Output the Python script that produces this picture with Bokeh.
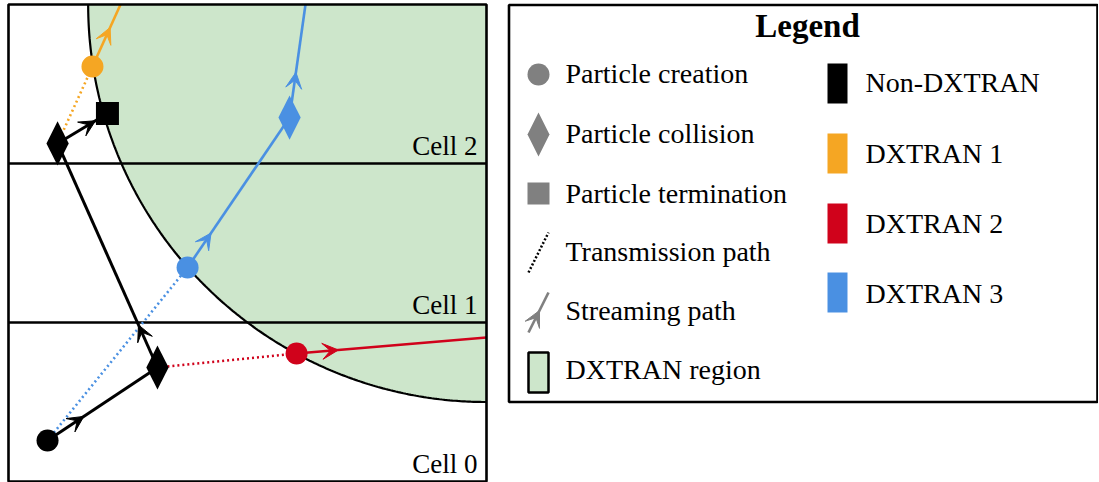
import numpy as np
from bokeh.plotting import figure
from bokeh.models import Range1d, Arrow, VeeHead
from bokeh.layouts import row
from bokeh.core.properties import value
from bokeh.embed import file_html
from bokeh.resources import INLINE

# ---------------- data ----------------
# cells (horizontal slabs of unit height)
cell_boundaries = [1.0, 2.0]
cell_labels = ["Cell 0", "Cell 1", "Cell 2"]

# DXTRAN sphere (centre and radius, in cell units)
dxtran_center_x = 3.0
dxtran_center_y = 3.0
dxtran_radius = 2.5

# particle events
event_id = ["src", "col1", "col2", "term", "dx1", "dx3", "col3", "dx2"]
event_x = [0.245, 0.935, 0.308, 0.621, 0.527, 1.124, 1.764, 1.808]
event_y = [0.258, 0.717, 2.126, 2.314, 2.610, 1.346, 2.289, 0.805]
event_kind = ["creation", "collision", "collision", "termination",
              "creation", "creation", "collision", "creation"]
event_group = ["Non-DXTRAN", "Non-DXTRAN", "Non-DXTRAN", "Non-DXTRAN",
               "DXTRAN 1", "DXTRAN 3", "DXTRAN 3", "DXTRAN 2"]

# points where particles leave the geometry
exit_id = ["out1", "out3", "out2"]
exit_x = [0.703, 1.864, 3.0]
exit_y = [3.0, 3.0, 0.906]

# paths between events
path_from = ["src", "col1", "col2", "dx1", "dx3", "col3", "dx2", "src", "col1", "col2"]
path_to = ["col1", "col2", "term", "out1", "col3", "out3", "out2", "dx3", "dx2", "dx1"]
path_kind = ["stream"] * 7 + ["transmit"] * 3
path_group = ["Non-DXTRAN", "Non-DXTRAN", "Non-DXTRAN", "DXTRAN 1", "DXTRAN 3",
              "DXTRAN 3", "DXTRAN 2", "DXTRAN 3", "DXTRAN 2", "DXTRAN 1"]
arrow_frac = [0.33, 0.19, 0.76, 0.63, 0.23, 0.40, 0.22, None, None, None]

group_names = ["Non-DXTRAN", "DXTRAN 1", "DXTRAN 2", "DXTRAN 3"]
group_colors = ["#000000", "#f5a623", "#d0021b", "#4a90e2"]

legend_title = "Legend"
legend_shape_labels = ["Particle creation", "Particle collision", "Particle termination",
                       "Transmission path", "Streaming path", "DXTRAN region"]

# ---------------- styling / layout ----------------
FONT = value("Liberation Serif")
REGION_FILL = "#cde6cb"
GREY = "#808080"
color_of = dict(zip(group_names, group_colors))
cell_label_y = [0.107, 1.113, 2.113]
cell_label_x = 2.943

pos = {}
for n, x, y in zip(event_id, event_x, event_y):
    pos[n] = (x, y)
for n, x, y in zip(exit_id, exit_x, exit_y):
    pos[n] = (x, y)

# ---------------- main panel ----------------
p = figure(width=490, height=482, x_range=Range1d(-0.0502, 3.0251),
           y_range=Range1d(-0.0063, 3.0252),
           x_axis_type=None, y_axis_type=None, toolbar_location=None,
           output_backend="svg", min_border=0)
p.outline_line_color = None
p.background_fill_color = "white"
p.border_fill_color = "white"

# DXTRAN region
t = np.linspace(np.pi, 1.5 * np.pi, 240)
arc_x = dxtran_center_x + dxtran_radius * np.cos(t)
arc_y = dxtran_center_y + dxtran_radius * np.sin(t)
p.patch(np.concatenate([arc_x, [dxtran_center_x]]),
        np.concatenate([arc_y, [dxtran_center_y]]),
        fill_color=REGION_FILL, line_color=None)
p.line(arc_x, arc_y, line_color="black", line_width=2.2)

# cell boundaries
for b in cell_boundaries:
    p.line([0, 3], [b, b], line_color="black", line_width=2.6)

# paths
for f, to, kind, g, fr in zip(path_from, path_to, path_kind, path_group, arrow_frac):
    (x0, y0), (x1, y1) = pos[f], pos[to]
    c = color_of[g]
    if kind == "transmit":
        p.line([x0, x1], [y0, y1], line_color=c, line_width=2.6, line_dash="2 3")
    else:
        lw = 3 if g == "Non-DXTRAN" else 2.6
        p.line([x0, x1], [y0, y1], line_color=c, line_width=lw)
        if fr is not None:
            tx, ty = x0 + fr * (x1 - x0), y0 + fr * (y1 - y0)
            sx, sy = x0 + (fr - 0.02) * (x1 - x0), y0 + (fr - 0.02) * (y1 - y0)
            p.add_layout(Arrow(end=VeeHead(size=16, fill_color=c, line_color=c, line_width=1),
                               x_start=sx, y_start=sy, x_end=tx, y_end=ty,
                               line_color=c, line_width=lw))

# events
hw, hh = 0.07, 0.139
for x, y, k, g in zip(event_x, event_y, event_kind, event_group):
    c = color_of[g]
    if k == "creation":
        p.scatter([x], [y], marker="circle", size=22, fill_color=c, line_color=None)
    elif k == "termination":
        p.scatter([x], [y], marker="square", size=23, fill_color=c, line_color=None)
    else:
        p.patch([x, x + hw, x, x - hw], [y - hh, y, y + hh, y], fill_color=c, line_color=None)

# panel border
p.quad(left=[0], right=[3], bottom=[0], top=[3], fill_color=None,
       line_color="black", line_width=2.6)

# cell labels
p.text(x=[cell_label_x] * 3, y=cell_label_y, text=cell_labels, text_font=FONT,
       text_font_size="27px", text_align="right", text_baseline="middle",
       text_color="black")

# ---------------- legend panel ----------------
L = figure(width=608, height=482, x_range=Range1d(490, 1098), y_range=Range1d(482, 0),
           x_axis_type=None, y_axis_type=None, toolbar_location=None,
           output_backend="svg", min_border=0)
L.outline_line_color = None
L.background_fill_color = "white"
L.border_fill_color = "white"

L.quad(left=[508.5], right=[1097], top=[4.5], bottom=[401.5], fill_color="white",
       line_color="black", line_width=2.6)

L.text(x=[807], y=[25.5], text=[legend_title], text_font=FONT, text_font_size="33px",
       text_font_style="bold", text_align="center", text_baseline="middle")

mx, tx0 = 538, 565
row_mid = [73, 133, 193, 250.5, 310, 368.5]
marker_mid = [74, 134, 193, 252, 312, 372]
L.text(x=[tx0] * len(legend_shape_labels), y=row_mid, text=legend_shape_labels,
       text_font=FONT, text_font_size="28px", text_align="left", text_baseline="middle")
# creation / collision / termination
L.scatter([mx], [marker_mid[0]], marker="circle", size=22, fill_color=GREY, line_color=None)
L.patch([mx, mx + 11, mx, mx - 11],
        [marker_mid[1] - 22, marker_mid[1], marker_mid[1] + 22, marker_mid[1]],
        fill_color=GREY, line_color=None)
L.scatter([mx], [marker_mid[2]], marker="square", size=22, fill_color=GREY, line_color=None)
# transmission path
L.line([mx - 10, mx + 10], [marker_mid[3] + 20, marker_mid[3] - 20], line_color="black",
       line_width=2.5, line_dash="2 2")
# streaming path
L.line([mx - 10, mx + 10], [marker_mid[4] + 20, marker_mid[4] - 20], line_color=GREY,
       line_width=2.6)
L.add_layout(Arrow(end=VeeHead(size=16, fill_color=GREY, line_color=GREY, line_width=1),
                   x_start=mx - 1, y_start=marker_mid[4] + 2, x_end=mx + 1,
                   y_end=marker_mid[4] - 2, line_color=GREY, line_width=2.6))
# region
L.quad(left=[mx - 10], right=[mx + 10], top=[marker_mid[5] - 20], bottom=[marker_mid[5] + 20],
       fill_color=REGION_FILL, line_color="black", line_width=2.5)

# group colours
gx, gtx = 837, 865
g_mid = [83, 153, 223, 292]
g_text = [82, 152.5, 222.5, 292.5]
L.quad(left=[gx - 10] * 4, right=[gx + 10] * 4, top=[m - 20 for m in g_mid],
       bottom=[m + 20 for m in g_mid], fill_color=group_colors, line_color=None)
L.text(x=[gtx] * 4, y=g_text, text=group_names, text_font=FONT, text_font_size="28px",
       text_align="left", text_baseline="middle")

layout = row(p, L, spacing=0)
open("out.html", "w").write(file_html(layout, INLINE))
